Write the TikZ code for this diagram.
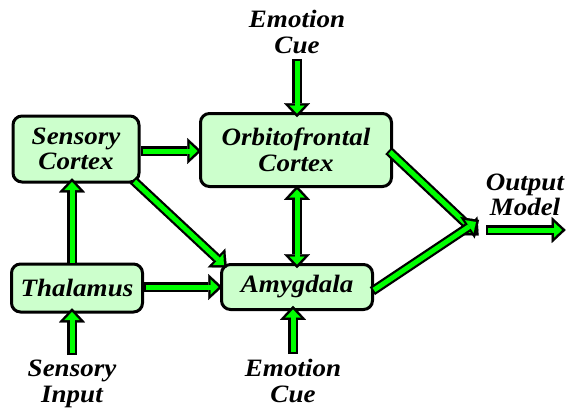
\documentclass[tikz,border=0pt]{standalone}
\usepackage{fontspec}
\setmainfont{Liberation Serif}[FakeStretch=1.08]
\usepackage{tikz}
\usetikzlibrary{arrows.meta, positioning}
\definecolor{boxgreen}{HTML}{CCFFCC}
\definecolor{flowgreen}{HTML}{00FF00}

\begin{document}
\begin{tikzpicture}[x=1pt, y=-1pt,
  lbl/.style={font=\fontsize{25}{25.5}\selectfont\bfseries\itshape, align=center, inner sep=1pt},
  region/.style={lbl, draw=black, line width=3pt, rounded corners=9pt, fill=boxgreen},
  flow/.style={draw=flowgreen, line width=5pt,
    -{Triangle[length=8pt, width=15pt, line width=0.1pt]},
    preaction={draw=black, line width=9.5pt, shorten >=-3.7pt, shorten <=-2pt,
      -{Triangle[length=14pt, width=26pt, line width=0.1pt]}}},
  flowboth/.style={draw=flowgreen, line width=5pt,
    {Triangle[length=8pt, width=15pt, line width=0.1pt]}-{Triangle[length=8pt, width=15pt, line width=0.1pt]},
    preaction={draw=black, line width=9.5pt, shorten >=-3.7pt, shorten <=-3.7pt,
      {Triangle[length=14pt, width=26pt, line width=0.1pt]}-{Triangle[length=14pt, width=26pt, line width=0.1pt]}}},
]
  \useasboundingbox (0,0) rectangle (566,408);

  % Regions
  \node[region, minimum width=126pt, minimum height=66pt] (sc) at (76,149) {Sensory\\Cortex};
  \node[region, minimum width=191pt, minimum height=73pt] (ofc) at (296,150) {Orbitofrontal\\Cortex};
  \node[region, minimum width=131pt, minimum height=48pt] (th) at (77,288) {Thalamus};
  \node[region, minimum width=151pt, minimum height=45pt] (am) at (297,287) {Amygdala};

  % Inputs and output
  \node[lbl] (cuetop) at (297,32) {Emotion\\Cue};
  \node[lbl] (cuebot) at (293,381) {Emotion\\Cue};
  \node[lbl] (input) at (72,384) {Sensory\\Input};
  \node[lbl] (output) at (525,195) {Output\\Model};
  \coordinate (conv) at (478,227);
  \coordinate (outend) at (562,230);
  \coordinate (outstart) at (488,230);

  % Connectors
  \draw[flow] (cuetop.south) ++(0,6) coordinate (ct) -- ([yshift=-1.5pt]ct |- ofc.north);
  \draw[flow] (cuebot.north) ++(0,-6) coordinate (cb) -- ([yshift=1.5pt]cb |- am.south);
  \draw[flow] (input.north) ++(0,-6) coordinate (ip) -- ([yshift=1.5pt]ip |- th.south);
  \draw[flow] (th.north -| ip) -- ([yshift=1.5pt]ip |- sc.south);
  \draw[flow] (sc.east) ++(2,2) coordinate (se) -- ([xshift=-1.5pt]se -| ofc.west);
  \draw[flow] (th.east) ++(2,-1) coordinate (te) -- ([xshift=-1.5pt]te -| am.west);
  \draw[flow] (sc.south east) ++(-6,-2) -- ([xshift=4pt,yshift=-2pt]am.north west);
  \draw[flowboth] (ofc.south) ++(1,1.5) coordinate (om) -- ([yshift=-1.5pt]om |- am.north);
  \draw[flow] ([yshift=-2pt]ofc.east) ++(-3,0) -- ([xshift=-2pt,yshift=-6pt]conv);
  \draw[flow] ([yshift=-3pt]am.east) -- ([xshift=-2pt,yshift=5pt]conv);
  \draw[flow] (outstart) -- (outend);
\end{tikzpicture}
\end{document}
